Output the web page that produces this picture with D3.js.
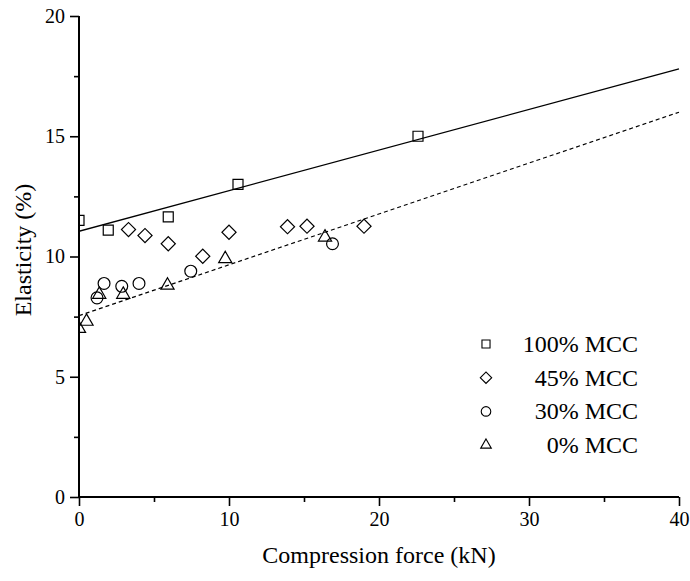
<!DOCTYPE html>
<html>
<head>
<meta charset="utf-8">
<script src="https://cdn.jsdelivr.net/npm/d3@7"></script>
<style>
  body { margin: 0; background: #fff; }
</style>
</head>
<body>
<script>
// data
var seriesNames = ["100% MCC", "45% MCC", "30% MCC", "0% MCC"];
var mcc100 = [[0, 11.5], [1.95, 11.1], [5.95, 11.65], [10.6, 13.0], [22.6, 15.0]];
var mcc45 = [[3.3, 11.12], [4.4, 10.87], [5.95, 10.53], [8.25, 10.01], [10.0, 11.01],
             [13.9, 11.24], [15.2, 11.26], [19.0, 11.26]];
var mcc30 = [[1.2, 8.28], [1.67, 8.88], [2.85, 8.76], [4.0, 8.88], [7.45, 9.39], [16.9, 10.53]];
var mcc0 = [[0, 7.0], [0.5, 7.3], [1.35, 8.42], [2.95, 8.42], [5.9, 8.8], [9.75, 9.9], [16.4, 10.8]];
// fitted lines (end points at x = 0 and x = 40)
var fit100 = [[0, 11.05], [40, 17.8]];
var fit0 = [[0, 7.54], [40, 16.0]];
var xTicks = [0, 10, 20, 30, 40];
var xMinor = [5, 15, 25, 35];
var yTicks = [0, 5, 10, 15, 20];
var yMinor = [2.5, 7.5, 12.5, 17.5];

var serif = "Liberation Serif";

var svg = d3.select("body")
   .append("svg")
   .attr("width", 690)
   .attr("height", 581)
   .attr("font-family", serif);

var xScale = d3.scaleLinear().domain([0, 40]).range([79, 679]);
var yScale = d3.scaleLinear().domain([0, 20]).range([497, 16]);

svg.append("clipPath").attr("id", "plot")
   .append("rect")
   .attr("x", 79).attr("y", 0)
   .attr("width", 610).attr("height", 497);

var plot = svg.append("g").attr("clip-path", "url(#plot)");

var line = d3.line()
   .x(function(d){ return xScale(d[0]); })
   .y(function(d){ return yScale(d[1]); });

plot.append("path").attr("d", line(fit100))
   .attr("fill", "none").attr("stroke", "#000").attr("stroke-width", 1.3);
plot.append("path").attr("d", line(fit0))
   .attr("fill", "none").attr("stroke", "#000").attr("stroke-width", 1.2)
   .attr("stroke-dasharray", "4,3");

// diamond = square turned 45 degrees
var shapes = [
   {data: mcc100, type: d3.symbolSquare, size: 100, rot: 0},
   {data: mcc45, type: d3.symbolSquare, size: 100, rot: 45},
   {data: mcc30, type: d3.symbolCircle, size: 110, rot: 0},
   {data: mcc0, type: d3.symbolTriangle, size: 75, rot: 0}
];

shapes.forEach(function(s){
   plot.selectAll(null)
      .data(s.data)
      .enter()
      .append("path")
      .attr("d", d3.symbol().type(s.type).size(s.size))
      .attr("transform", function(d){
          return "translate(" + xScale(d[0]) + "," + yScale(d[1]) + ") rotate(" + s.rot + ")";
      })
      .attr("fill", "none")
      .attr("stroke", "#000")
      .attr("stroke-width", 1.2);
});

// axes
var xAxis = svg.append("g").attr("transform", "translate(0,497)")
   .call(d3.axisBottom(xScale).tickValues(xTicks).tickSize(9).tickPadding(6).tickFormat(d3.format("d")));
svg.append("g").attr("transform", "translate(0,497)")
   .call(d3.axisBottom(xScale).tickValues(xMinor).tickSize(5).tickFormat(""))
   .select(".domain").remove();
var yAxis = svg.append("g").attr("transform", "translate(79,0)")
   .call(d3.axisLeft(yScale).tickValues(yTicks).tickSize(9).tickPadding(5).tickFormat(d3.format("d")));
svg.append("g").attr("transform", "translate(79,0)")
   .call(d3.axisLeft(yScale).tickValues(yMinor).tickSize(5).tickFormat(""))
   .select(".domain").remove();

svg.selectAll(".domain").attr("stroke-width", 2);
xAxis.select(".domain").attr("d", "M79,0H679");
yAxis.select(".domain").attr("d", "M0,16V497");
svg.selectAll(".tick line").attr("stroke-width", 1.6);
svg.selectAll("g").attr("font-family", serif);
svg.selectAll(".tick text")
   .attr("font-size", 20)
   .attr("fill", "#000");

svg.append("text").text("Compression force (kN)")
   .attr("x", 379).attr("y", 563)
   .attr("text-anchor", "middle")
   .attr("font-family", serif)
   .attr("font-size", 24);
svg.append("text").text("Elasticity (%)")
   .attr("transform", "translate(31,250) rotate(-90)")
   .attr("text-anchor", "middle")
   .attr("font-family", serif)
   .attr("font-size", 24);

// legend
var legend = svg.append("g");
shapes.forEach(function(s, i){
   var y = 344 + i * 33.7;
   legend.append("path")
      .attr("d", d3.symbol().type(s.type).size(s.size * 0.65))
      .attr("transform", "translate(486," + y + ") rotate(" + s.rot + ")")
      .attr("fill", "none")
      .attr("stroke", "#000")
      .attr("stroke-width", 1.1);
   legend.append("text")
      .text(seriesNames[i])
      .attr("x", 638)
      .attr("y", y + 8)
      .attr("text-anchor", "end")
      .attr("font-family", serif)
      .attr("font-size", 24);
});
</script>
</body>
</html>
